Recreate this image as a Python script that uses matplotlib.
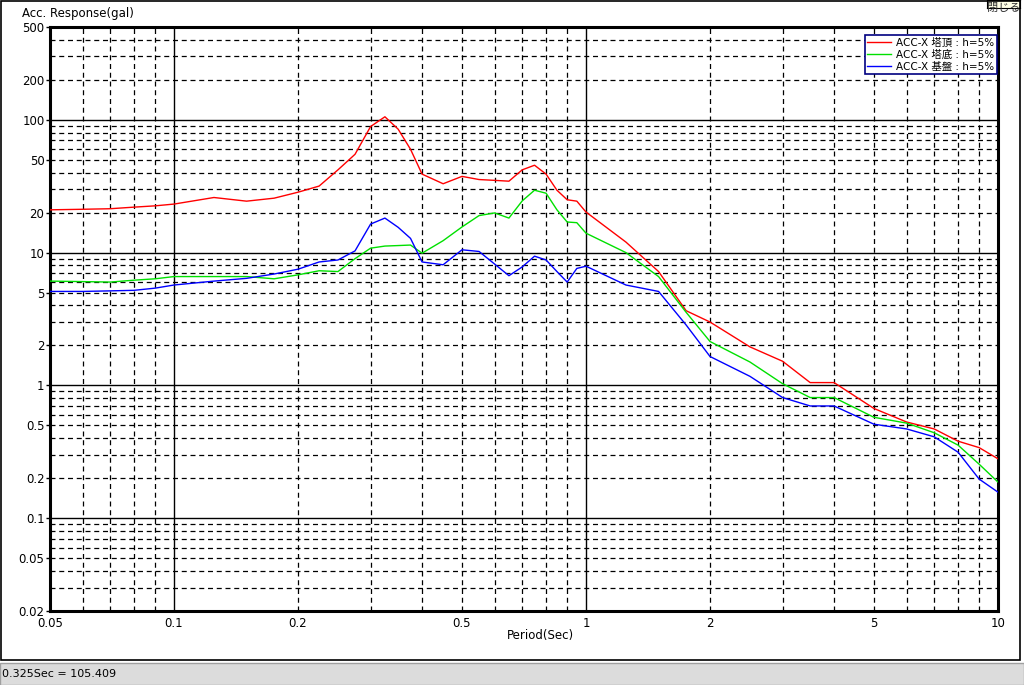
import matplotlib
matplotlib.use("Agg")
import matplotlib.pyplot as plt
from matplotlib.patches import Rectangle
from matplotlib.ticker import FixedLocator, FixedFormatter, NullLocator

plt.rcParams['font.family'] = ['DejaVu Sans', 'Noto Sans CJK JP']

# periods (sec)
periods = [0.05, 0.06, 0.07, 0.08, 0.09, 0.1, 0.125, 0.15, 0.175, 0.2,
           0.225, 0.25, 0.275, 0.3, 0.325, 0.35, 0.375, 0.4, 0.45, 0.5,
           0.55, 0.6, 0.65, 0.7, 0.75, 0.8, 0.85, 0.9, 0.95, 1.0,
           1.25, 1.5, 1.75, 2.0, 2.5, 3.0, 3.5, 4.0, 5, 6, 7, 8, 9, 10]

# ACC-X top of tower
acc_top = [21.0, 21.2, 21.4, 22.0, 22.5, 23.2, 26.0, 24.4, 25.7, 28.5,
           31.7, 42.0, 55.0, 89.0, 105.4, 85.0, 60.0, 39.0, 33.0, 37.5,
           35.5, 35.0, 34.5, 42.0, 45.5, 39.0, 29.5, 25.0, 24.4, 20.2,
           12.0, 7.2, 3.65, 3.0, 1.95, 1.52, 1.05, 1.05, 0.67, 0.53,
           0.47, 0.38, 0.34, 0.28]

# ACC-X bottom of tower
acc_bottom = [6.1, 6.05, 6.0, 6.2, 6.35, 6.6, 6.6, 6.6, 6.35, 6.8,
              7.3, 7.2, 9.0, 10.8, 11.2, 11.3, 11.4, 9.9, 12.3, 15.6,
              19.0, 19.9, 18.2, 24.5, 29.5, 28.0, 21.0, 17.0, 16.8, 14.0,
              10.0, 6.6, 3.55, 2.14, 1.5, 1.03, 0.81, 0.81, 0.575, 0.52,
              0.44, 0.355, 0.255, 0.187]

# ACC-X foundation
acc_base = [5.1, 5.1, 5.15, 5.2, 5.4, 5.7, 6.1, 6.4, 6.9, 7.5,
            8.5, 8.8, 10.3, 16.4, 18.2, 15.5, 12.8, 8.5, 8.1, 10.5,
            10.2, 8.2, 6.7, 7.8, 9.4, 8.8, 7.2, 6.0, 7.6, 7.9,
            5.7, 5.1, 2.85, 1.65, 1.17, 0.81, 0.70, 0.70, 0.51, 0.47,
            0.41, 0.314, 0.197, 0.157]

labels = ['ACC-X 塔頂 : h=5%', 'ACC-X 塔底 : h=5%', 'ACC-X 基盤 : h=5%']
colors = ['#ff0000', '#00e000', '#0000ff']

xticks = [0.05, 0.1, 0.2, 0.5, 1, 2, 5, 10]
xticklabels = ['0.05', '0.1', '0.2', '0.5', '1', '2', '5', '10']
yticks = [0.02, 0.05, 0.1, 0.2, 0.5, 1, 2, 5, 10, 20, 50, 100, 200, 500]
yticklabels = ['0.02', '0.05', '0.1', '0.2', '0.5', '1', '2', '5', '10',
               '20', '50', '100', '200', '500']

W, H = 1024, 685
fig = plt.figure(figsize=(W / 100, H / 100), dpi=100)
fig.patch.set_facecolor('white')

# window frame and status bar
fig.patches.append(Rectangle((1 / W, 25 / H), 1019 / W, 659 / H, transform=fig.transFigure,
                             fill=False, edgecolor='black', linewidth=1.2, zorder=0))
fig.patches.append(Rectangle((0, 0), 1, 22 / H, transform=fig.transFigure,
                             facecolor='#dcdcdc', edgecolor='#a0a0a0', linewidth=1, zorder=0))
fig.text(2 / W, 11 / H, '0.325Sec = 105.409', fontsize=8, va='center', ha='left')

# cut-off close button
btn = fig.add_axes([987 / W, 1 - 8 / H, 33 / W, 8 / H])
btn.set_facecolor('#ffffe6')
btn.set_xticks([])
btn.set_yticks([])
for s in btn.spines.values():
    s.set_linewidth(0.8)
btn.text(0.5, -0.6, '閉じる', fontsize=8, ha='center', va='bottom',
         family=['Noto Sans CJK JP'], color='#333333', transform=btn.transAxes)

ax = fig.add_axes([50 / W, 1 - 611 / H, 948 / W, 584 / H])
ax.set_xscale('log')
ax.set_yscale('log')
ax.set_xlim(0.05, 10)
ax.set_ylim(0.02, 500)

# grid: solid at decades, dashed in between
for dec in [0.01, 0.1, 1, 10, 100]:
    for m in range(1, 10):
        v = dec * m
        if 0.02 < v < 500:
            if m == 1:
                ax.axhline(v, color='black', linewidth=1.0, zorder=1)
            else:
                ax.axhline(v, color='black', linewidth=0.9, linestyle=(0, (4, 3)), zorder=1)
        if 0.05 < v < 10:
            if m == 1:
                ax.axvline(v, color='black', linewidth=1.0, zorder=1)
            else:
                ax.axvline(v, color='black', linewidth=0.9, linestyle=(0, (4, 3)), zorder=1)

for vals, lab, col in zip([acc_top, acc_bottom, acc_base], labels, colors):
    ax.plot(periods, vals, color=col, linewidth=1.0, label=lab, zorder=3)

ax.xaxis.set_major_locator(FixedLocator(xticks))
ax.xaxis.set_major_formatter(FixedFormatter(xticklabels))
ax.xaxis.set_minor_locator(NullLocator())
ax.yaxis.set_major_locator(FixedLocator(yticks))
ax.yaxis.set_major_formatter(FixedFormatter(yticklabels))
ax.yaxis.set_minor_locator(NullLocator())
ax.tick_params(axis='y', direction='out', length=3, width=1, labelsize=8.5, pad=1)
ax.tick_params(axis='x', direction='out', length=0, labelsize=8.5, pad=4)

for s in ax.spines.values():
    s.set_linewidth(2.2)

leg = ax.legend(loc='upper right', bbox_to_anchor=(0.999, 0.987), borderaxespad=0,
                fancybox=False, framealpha=1, edgecolor='#000080', fontsize=7.5,
                handlelength=2.3, handletextpad=0.5, borderpad=0.25, labelspacing=0.2)
leg.get_frame().set_linewidth(1.2)

fig.text(22 / W, 1 - 13 / H, 'Acc. Response(gal)', fontsize=8.5, ha='left', va='center')
fig.text(540 / W, 1 - 635 / H, 'Period(Sec)', fontsize=8.5, ha='center', va='center')

fig.savefig('out.png', dpi=100)
